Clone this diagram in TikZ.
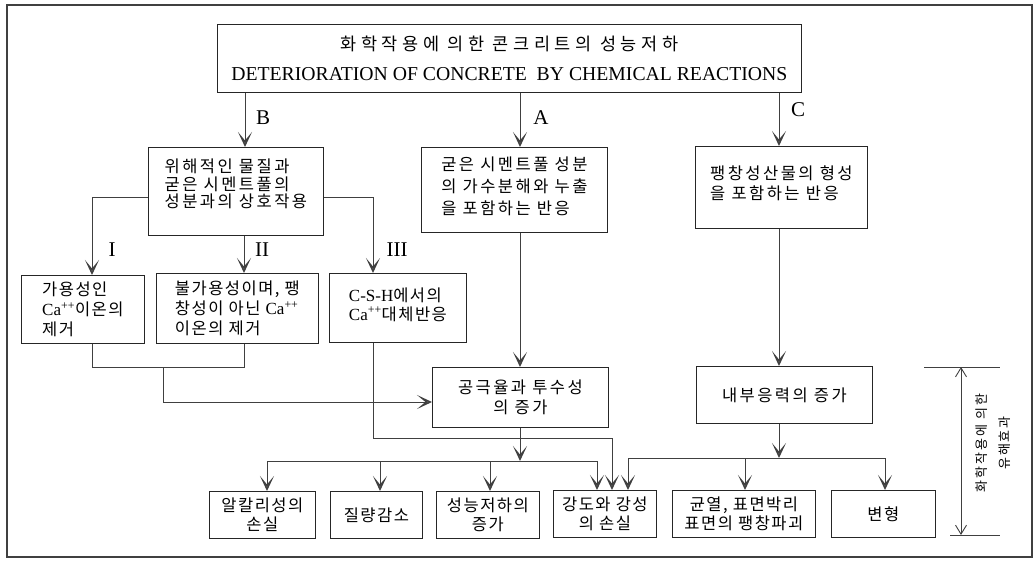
\documentclass[tikz,border=0pt]{standalone}
\usepackage{fontspec}
\setmainfont{Liberation Serif}
\newfontfamily\krfont[LetterSpace=15]{Noto Sans CJK KR}
\newfontfamily\krsmall[LetterSpace=9]{Noto Sans CJK KR}
\newfontfamily\krtitle[LetterSpace=26]{Noto Sans CJK KR}
\usetikzlibrary{arrows.meta}
\begin{document}
\begin{tikzpicture}[x=1pt,y=-1pt,
  box/.style={draw=black!85, line width=0.8pt, inner sep=3pt, anchor=north west,
    font=\krfont\fontsize{16.5}{19}\selectfont},
  sbox/.style={box, align=center, font=\krsmall\fontsize{16.5}{19}\selectfont},
  conn/.style={draw=black!75, line width=0.9pt},
  arr/.style={conn, -{Stealth[length=15pt,width=14pt,inset=8.5pt,line width=1.3pt,fill=black!55]}},
  dimarr/.style={conn, {Straight Barb[length=9pt,width=11pt]}-{Straight Barb[length=9pt,width=11pt]}},
  lbl/.style={font=\rmfamily\fontsize{21}{21}\selectfont, inner sep=0pt}]
\useasboundingbox (0,0) rectangle (1035,560);
\draw[black!75, line width=1.6pt] (7,5) rectangle (1032,557);

% boxes
\node[box, minimum width=584pt, minimum height=68pt, align=center,
      font=\krtitle\fontsize{17.5}{30}\selectfont] (top) at (217,24)
  {화학작용에 의한 콘크리트의 성능저하\\{\rmfamily\fontsize{19.7}{30}\selectfont DETERIORATION OF CONCRETE\ \ BY CHEMICAL REACTIONS}};
\node[box, minimum width=175pt, minimum height=88pt, align=left, text depth=16pt,
      font=\krfont\fontsize{16.5}{17.5}\selectfont] (B) at (148,147)
  {위해적인 물질과\\굳은 시멘트풀의\\성분과의 상호작용};
\node[box, minimum width=186pt, minimum height=85pt, align=left, text depth=9pt,
      font=\krfont\fontsize{16.5}{22}\selectfont] (A) at (421,147)
  {굳은 시멘트풀 성분\\의 가수분해와 누출\\을 포함하는 반응};
\node[box, minimum width=172pt, minimum height=82pt, align=left, text depth=9pt,
      font=\krfont\fontsize{16.5}{20}\selectfont] (C) at (695,146)
  {팽창성산물의 형성\\을 포함하는 반응};
\node[box, minimum width=123pt, minimum height=68pt, align=left,
      font=\krsmall\fontsize{16.5}{20}\selectfont] (I) at (21,275)
  {가용성인\\{\rmfamily\fontsize{17}{19}\selectfont Ca\textsuperscript{++}}이온의\\제거};
\node[box, minimum width=162pt, minimum height=70pt, align=left,
      font=\krsmall\fontsize{16.5}{20}\selectfont] (II) at (156,273)
  {불가용성이며, 팽\\창성이 아닌 {\rmfamily\fontsize{17}{19}\selectfont Ca\textsuperscript{++}}\\이온의 제거};
\node[box, minimum width=137pt, minimum height=69pt, align=left, text depth=8pt,
      font=\krsmall\fontsize{16.5}{19}\selectfont] (III) at (329,273)
  {{\rmfamily\fontsize{17}{19}\selectfont C-S-H}에서의\\{\rmfamily\fontsize{17}{19}\selectfont Ca\textsuperscript{++}}대체반응};
\node[box, minimum width=176pt, minimum height=60pt, align=center,
      font=\krfont\fontsize{16.5}{20}\selectfont] (pore) at (432,367)
  {공극율과 투수성\\의 증가};
\node[box, minimum width=176pt, minimum height=57pt, align=center] (int) at (696,366)
  {내부응력의 증가};
\node[sbox, minimum width=106pt, minimum height=47pt] (alk) at (209,491)
  {알칼리성의\\손실};
\node[sbox, minimum width=92pt, minimum height=47pt] (mass) at (330,491)
  {질량감소};
\node[sbox, minimum width=103pt, minimum height=47pt] (perf) at (436,491)
  {성능저하의\\증가};
\node[sbox, minimum width=103pt, minimum height=47pt] (str) at (553,490)
  {강도와 강성\\의 손실};
\node[sbox, minimum width=143pt, minimum height=47pt, inner xsep=1pt] (crack) at (672,490)
  {균열, 표면박리\\표면의 팽창파괴};
\node[sbox, minimum width=104pt, minimum height=47pt] (def) at (831,490)
  {변형};

% labels
\node[lbl] (lB) at (263,118) {B};
\node[lbl] (lA) at (541,118) {A};
\node[lbl] (lC) at (798,110) {C};
\node[lbl] (lI) at (112,250) {I};
\node[lbl] (lII) at (262,250) {II};
\node[lbl] (lIII) at (397,250) {III};

% helper coordinates
\coordinate (xB) at (245,0);
\coordinate (xA) at (520,0);
\coordinate (xC) at (779,0);
\coordinate (xI) at (92,0);
\coordinate (xII) at (244,0);
\coordinate (xIII) at (373,0);
\coordinate (yb) at (0,197);
\coordinate (yj) at (0,367);
\coordinate (xm) at (163,0);
\coordinate (yp) at (0,402);
\coordinate (yq) at (0,438);
\coordinate (xq) at (612,0);
\coordinate (yh) at (0,461);
\coordinate (x1) at (267,0);
\coordinate (x2) at (380,0);
\coordinate (x3) at (490,0);
\coordinate (x4) at (597,0);
\coordinate (yk) at (0,458);
\coordinate (x5) at (628,0);
\coordinate (x6) at (745,0);
\coordinate (x7) at (885,0);

% connectors from title
\draw[arr] (top.south -| xB) -- (xB |- B.north);
\draw[arr] (top.south -| xA) -- (xA |- A.north);
\draw[arr] (top.south -| xC) -- (xC |- C.north);

% branches of B
\draw[arr] (B.west |- yb) -- (xI |- yb) -- (xI |- I.north);
\draw[arr] (B.south -| xII) -- (xII |- II.north);
\draw[arr] (B.east |- yb) -- (xIII |- yb) -- (xIII |- III.north);

% I, II joined into pore box
\draw[conn] (I.south -| xI) -- (xI |- yj) -- (xII |- yj) -- (II.south -| xII);
\draw[arr] (xm |- yj) -- (xm |- yp) -- (pore.west |- yp);

% A into pore box
\draw[arr] (A.south -| xA) -- (xA |- pore.north);

% III into strength box
\draw[arr] (III.south -| xIII) -- (xIII |- yq) -- (xq |- yq) -- (xq |- str.north);

% pore box to bottom row
\draw[arr] (pore.south -| xA) -- (xA |- yh);
\draw[conn] (x1 |- yh) -- (x4 |- yh);
\draw[arr] (x1 |- yh) -- (x1 |- alk.north);
\draw[arr] (x2 |- yh) -- (x2 |- mass.north);
\draw[arr] (x3 |- yh) -- (x3 |- perf.north);
\draw[arr] (x4 |- yh) -- (x4 |- str.north);

% C branch
\draw[arr] (C.south -| xC) -- (xC |- int.north);
\draw[arr] (int.south -| xC) -- (xC |- yk);
\draw[conn] (x5 |- yk) -- (x7 |- yk);
\draw[arr] (x5 |- yk) -- (x5 |- str.north);
\draw[arr] (x6 |- yk) -- (x6 |- crack.north);
\draw[arr] (x7 |- yk) -- (x7 |- def.north);

% dimension marker
\coordinate (dT1) at (924,367);
\coordinate (dT2) at (1000,367);
\coordinate (dB1) at (950,535);
\coordinate (dB2) at (1000,535);
\coordinate (dX) at (961,0);
\draw[conn] (dT1) -- (dT2);
\draw[conn] (dB1) -- (dB2);
\draw[dimarr] (dX |- dT1) -- (dX |- dB1);
\node[rotate=90, align=center, inner sep=0pt,
      font=\krfont\fontsize{13}{23}\selectfont] (vt) at (993,443)
  {화학작용에 의한\\유해효과};
\end{tikzpicture}
\end{document}
